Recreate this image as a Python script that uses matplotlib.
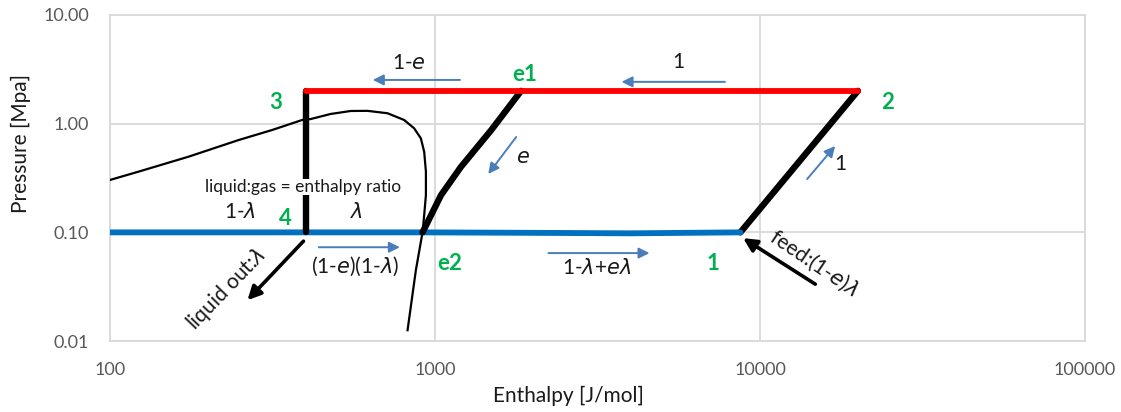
import matplotlib.pyplot as plt
from matplotlib.ticker import FixedLocator, FixedFormatter

# ---- cycle data (enthalpy J/mol, pressure MPa) ----
hp_h = [400, 20000]            # high-pressure line 3 -> 2
hp_p = [2.0, 2.0]
lp_h = [100, 400, 916, 2000, 4000, 8700]   # low-pressure line
lp_p = [0.1, 0.1, 0.1, 0.099, 0.098, 0.1]
valve_h = [400, 400]           # 3 -> 4
valve_p = [0.1, 2.0]
comp_h = [8700, 20000]         # 1 -> 2
comp_p = [0.1, 2.0]
exp_h = [916, 1044, 1202, 1489, 1841]      # e2 -> e1
exp_p = [0.1, 0.22, 0.4, 0.87, 2.0]

# saturation dome
dome_h = [100, 122.3, 174.5, 248.9, 315.5, 390.6, 414, 477.5, 550.6, 620,
          714.5, 803.8, 863, 905, 926.6, 938, 938, 926.6, 916.3, 873.6, 823.6]
dome_p = [0.303, 0.361, 0.496, 0.706, 0.873, 1.08, 1.10, 1.226, 1.306, 1.31,
          1.245, 1.08, 0.905, 0.732, 0.551, 0.361, 0.22, 0.144, 0.101,
          0.0449, 0.0126]

# ---- flow arrows: (tail, head) ----
blue_arrows = [
    ((1194, 2.52), (644, 2.52)),
    ((7800, 2.42), (3750, 2.42)),
    ((1778, 0.753), (1459, 0.344)),
    ((13960, 0.309), (17020, 0.622)),
    ((439, 0.073), (780, 0.073)),
    ((2234, 0.0645), (4571, 0.0645)),
]
black_arrows = [
    ((394, 0.083), (265, 0.0238)),
    ((14790, 0.0334), (8870, 0.0885)),
]

# ---- labels ----
flow_labels = [
    ("1-$e$", 832, 3.61, 0),
    ("1", 5620, 3.69, 0),
    ("$e$", 1871, 0.49, 0),
    ("1", 17660, 0.425, 0),
    ("(1-$e$)(1-$\\lambda$)", 570, 0.049, 0),
    ("1-$\\lambda$+$e\\lambda$", 3140, 0.0467, 0),
    ("1-$\\lambda$", 252, 0.153, 0),
    ("$\\lambda$", 574, 0.153, 0),
    ("liquid out:$\\lambda$", 228, 0.030, 46),
    ("feed:(1-$e$)$\\lambda$", 14690, 0.052, -34),
]
state_labels = [
    ("3", 323, 1.55), ("4", 347, 0.135), ("e1", 1884, 2.80),
    ("2", 24650, 1.55), ("e2", 1111, 0.052), ("1", 7160, 0.0512),
]

x_ticks = [100, 1000, 10000, 100000]
x_ticklabels = ["100", "1000", "10000", "100000"]
y_ticks = [0.01, 0.1, 1, 10]
y_ticklabels = ["0.01", "0.10", "1.00", "10.00"]

plt.rcParams["font.family"] = ["Lato", "DejaVu Sans"]
plt.rcParams["mathtext.fontset"] = "custom"
plt.rcParams["mathtext.rm"] = "Lato"
plt.rcParams["mathtext.it"] = "DejaVu Sans:italic"

RED = "#ff0000"
BLUE = "#0070c0"
ARROW = "#4a7ebb"
GREEN = "#00b050"
GRID = "#d9d9d9"
TXT = "#1a1a1a"

fig = plt.figure(figsize=(11.21, 4.12), dpi=100)
ax = fig.add_axes([0.098, 0.172, 0.870, 0.792])

ax.plot(dome_h, dome_p, color="k", lw=1.6, zorder=3)
ax.plot(lp_h, lp_p, color=BLUE, lw=4.2, solid_capstyle="round", zorder=4)
ax.plot(valve_h, valve_p, color="k", lw=4.6, solid_capstyle="round", zorder=5)
ax.plot(hp_h, hp_p, color=RED, lw=4.2, solid_capstyle="round", zorder=6)
ax.plot(comp_h, comp_p, color="k", lw=4.6, solid_capstyle="round", zorder=3.5)
ax.plot(exp_h, exp_p, color="k", lw=4.6, solid_capstyle="round", zorder=5)

for tail, head in blue_arrows:
    ax.annotate("", xy=head, xytext=tail,
                arrowprops=dict(arrowstyle="-|>", color=ARROW, lw=1.4,
                                mutation_scale=16, shrinkA=0, shrinkB=0))
for tail, head in black_arrows:
    ax.annotate("", xy=head, xytext=tail,
                arrowprops=dict(arrowstyle="-|>", color="k", lw=2.6,
                                mutation_scale=20, shrinkA=0, shrinkB=0))

for txt, x, y, rot in flow_labels:
    ax.text(x, y, txt, fontsize=15, color=TXT, ha="center", va="center",
            rotation=rot, rotation_mode="anchor")
# the ratio note sits on a white box that breaks the 3 -> 4 line
ax.text(392, 0.261, "liquid:gas = enthalpy ratio", fontsize=12.5,
        color=TXT, ha="center", va="center", zorder=7,
        bbox=dict(fc="white", ec="none", pad=0.3))

for txt, x, y in state_labels:
    ax.text(x, y, txt, fontsize=16, color=GREEN, fontweight="bold",
            ha="center", va="center")

ax.set_xscale("log")
ax.set_yscale("log")
ax.set_xlim(100, 100000)
ax.set_ylim(0.01, 10)
ax.xaxis.set_major_locator(FixedLocator(x_ticks))
ax.xaxis.set_major_formatter(FixedFormatter(x_ticklabels))
ax.xaxis.set_minor_locator(FixedLocator([]))
ax.yaxis.set_major_locator(FixedLocator(y_ticks))
ax.yaxis.set_major_formatter(FixedFormatter(y_ticklabels))
ax.yaxis.set_minor_locator(FixedLocator([]))
ax.tick_params(axis="x", length=0, labelsize=13, labelcolor="#595959", pad=15)
ax.tick_params(axis="y", length=0, labelsize=13, labelcolor="#595959", pad=15)

ax.grid(True, color=GRID, lw=1.3)
for s in ax.spines.values():
    s.set_color(GRID)
    s.set_linewidth(1.3)

ax.set_xlabel("Enthalpy [J/mol]", fontsize=15, color=TXT)
ax.set_ylabel("Pressure [Mpa]", fontsize=15, color=TXT)
ax.xaxis.set_label_coords((568 - 110) / 975, -(386 - 341) / 326)
ax.yaxis.set_label_coords(-(110 - 31) / 975, (341 - 144) / 326)

fig.savefig("out.png", dpi=100)
